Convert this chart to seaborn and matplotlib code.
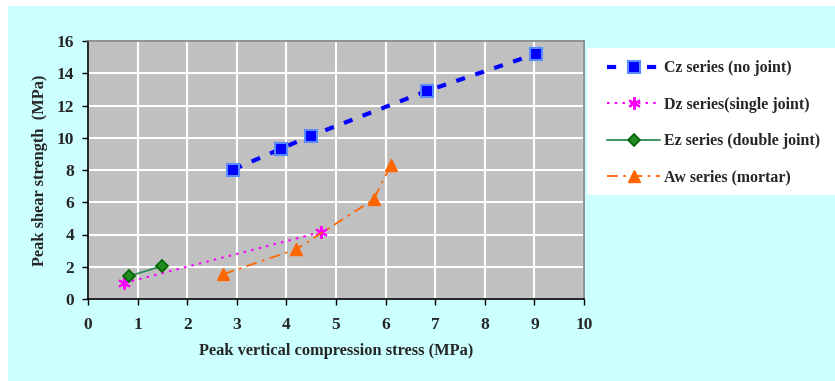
import matplotlib
matplotlib.use("Agg")
import matplotlib.pyplot as plt
import seaborn as sns
import pandas as pd
from matplotlib.patches import Rectangle

# ---- data ----
cz_x = [2.93, 3.90, 4.50, 6.83, 9.03]
cz_y = [8.03, 9.33, 10.13, 12.90, 15.20]
dz_x = [0.73, 4.69]
dz_y = [0.99, 4.14]
ez_x = [0.83, 1.49]
ez_y = [1.42, 2.04]
aw_x = [2.73, 4.20, 5.76, 6.10]
aw_y = [1.54, 3.09, 6.18, 8.28]
labels = ["Cz series (no joint)", "Dz series(single joint)",
          "Ez series (double joint)", "Aw series (mortar)"]
x_ticks = list(range(0, 11))
y_ticks = list(range(0, 17, 2))

sns.set_theme(style="white")
plt.rcParams['font.family'] = ['Liberation Serif', 'DejaVu Serif']
plt.rcParams['font.weight'] = 'bold'

W, H = 835, 381
fig = plt.figure(figsize=(W / 100, H / 100), dpi=100)
fig.patch.set_facecolor("white")
fig.patches.append(Rectangle((8 / W, 0), 1 - 8 / W, 1 - 6 / H, transform=fig.transFigure,
                             facecolor="#CCFFFF", edgecolor="none", zorder=-10))
fig.patches.append(Rectangle((587 / W, 1 - 195 / H), 1 - 587 / W, (195 - 48) / H,
                             transform=fig.transFigure, facecolor="white",
                             edgecolor="none", zorder=-5))

ax = fig.add_axes([88 / W, 1 - 299 / H, (584 - 88) / W, (299 - 41) / H])
ax.set_facecolor("#C0C0C0")

series = [
    (cz_x, cz_y, dict(color="#0000FF", lw=3.0, dashes=(2.2, 2.6), marker="s", ms=8,
                      mfc="#0000FF", mec="#5A8CFF", mew=1.5)),
    (dz_x, dz_y, dict(color="#FF00FF", lw=1.5, dashes=(1.2, 2.5), marker=(6, 2, 0), ms=9,
                      mfc="#FF00FF", mec="#FF00FF", mew=1.5)),
    (ez_x, ez_y, dict(color="#2E8B57", lw=1.3, ls="-", marker="D", ms=6.5,
                      mfc="#228B22", mec="#006400", mew=1.2)),
    (aw_x, aw_y, dict(color="#FF6600", lw=1.3, dashes=(6, 3, 1.5, 3), marker="^", ms=9,
                      mfc="#FF6600", mec="#FF6600", mew=1.0)),
]

handles = []
for (xs, ys, st), lab in zip(series, labels):
    df = pd.DataFrame({"x": xs, "y": ys})
    n0 = len(ax.lines)
    sns.lineplot(data=df, x="x", y="y", ax=ax, sort=False, estimator=None,
                 color=st["color"], lw=st["lw"], label=lab, legend=False)
    line = ax.lines[n0]
    if "dashes" in st:
        line.set_dashes(st["dashes"])
    else:
        line.set_linestyle(st["ls"])
    line.set_marker(st["marker"])
    line.set_markersize(st["ms"])
    line.set_markerfacecolor(st["mfc"])
    line.set_markeredgecolor(st["mec"])
    line.set_markeredgewidth(st["mew"])
    line.set_zorder(3)
    handles.append(line)

ax.set_xlim(0, 10)
ax.set_ylim(0, 16)
ax.set_xticks(x_ticks)
ax.set_yticks(y_ticks)
ax.grid(True, color="white", lw=1.5)
ax.set_axisbelow(True)
for s in ["top", "right"]:
    ax.spines[s].set_color("#808080")
    ax.spines[s].set_linewidth(1.2)
for s in ["left", "bottom"]:
    ax.spines[s].set_color("black")
    ax.spines[s].set_linewidth(1.2)
ax.tick_params(axis="both", direction="out", length=4, width=1, color="black",
               labelsize=12.5, pad=6, bottom=True, left=True)
ax.tick_params(axis="x", pad=9)
for t in ax.get_xticklabels() + ax.get_yticklabels():
    t.set_fontweight("bold")

ax.set_xlabel("Peak vertical compression stress (MPa)", fontsize=11.8,
              fontweight="bold", labelpad=7)
ax.set_ylabel("Peak shear strength  (MPa)", fontsize=11.8, fontweight="bold", labelpad=6)

leg = fig.legend(handles=handles, labels=labels, loc="upper left",
                 bbox_to_anchor=(596 / W, 1 - 49 / H), frameon=False,
                 prop={"family": "Liberation Serif", "weight": "bold", "size": 11.4},
                 handlelength=3.35, handletextpad=0.25, labelspacing=1.3,
                 borderpad=0.2)

fig.savefig("out.png", dpi=100, facecolor=fig.get_facecolor())
